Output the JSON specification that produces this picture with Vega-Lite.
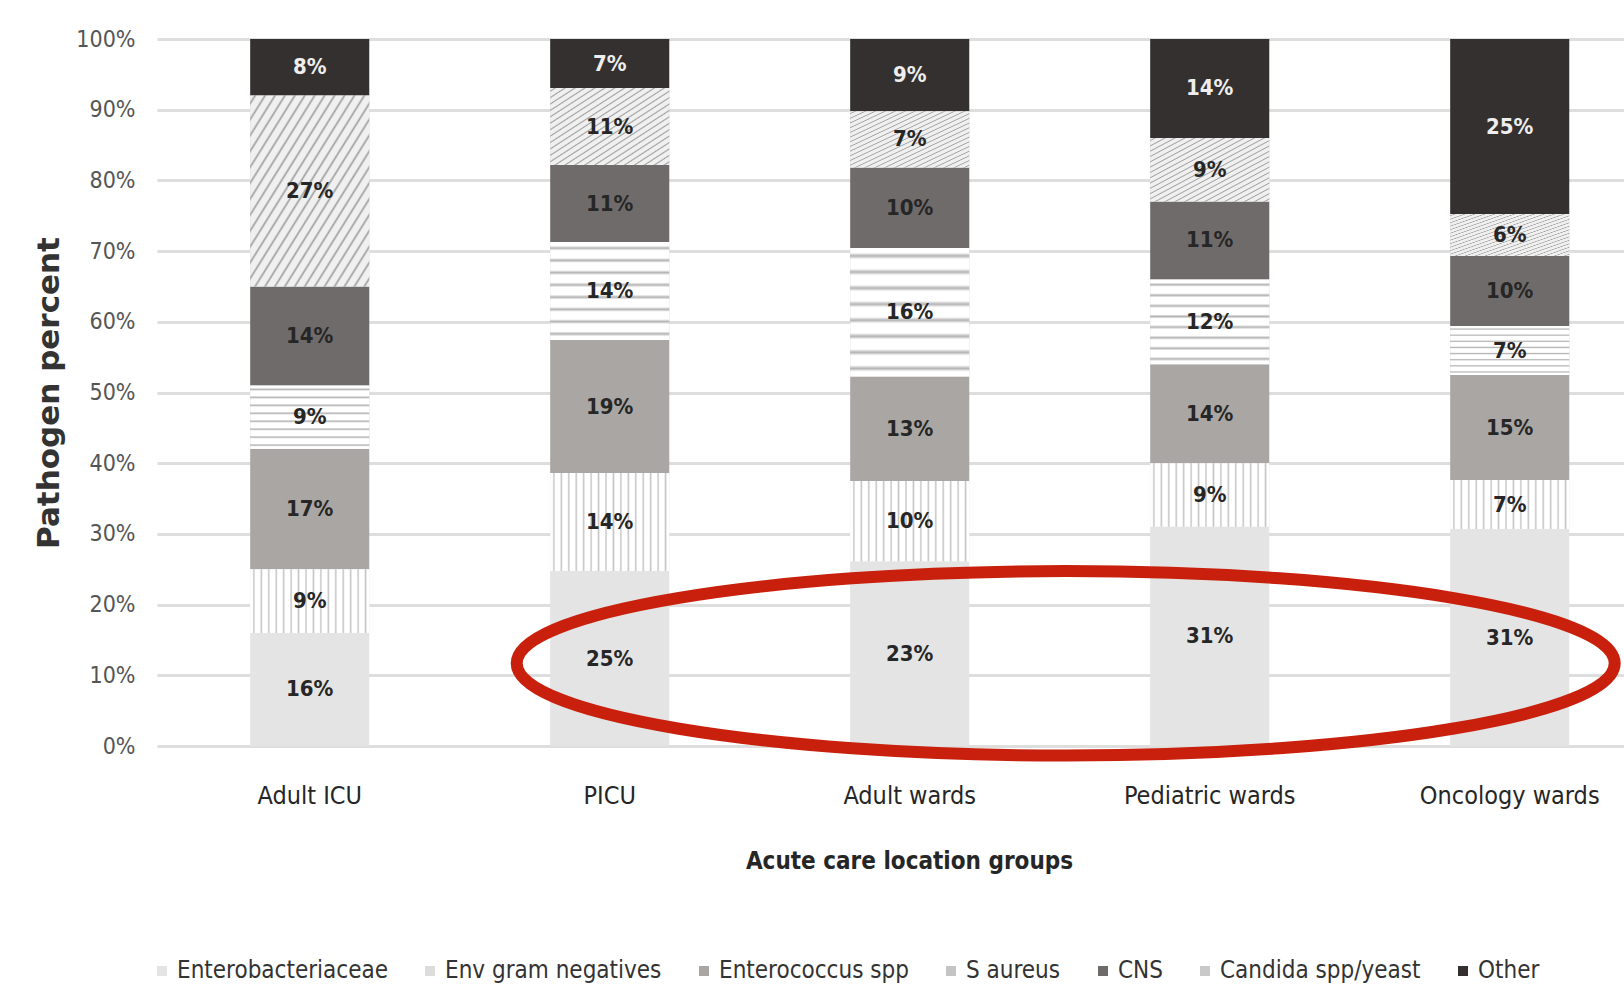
{
  "$schema": "https://vega.github.io/schema/vega-lite/v6.json",
  "width": 1467,
  "height": 707,
  "autosize": {"type": "none"},
  "padding": {"left": 157, "top": 39, "right": 0, "bottom": 243},
  "background": "#ffffff",
  "config": {
    "view": {"stroke": null},
    "font": "DejaVu Sans Condensed, Liberation Sans, sans-serif"
  },
  "datasets": {
    "main": [
      {"location": "Adult ICU", "pathogen": "Enterobacteriaceae", "order": 1, "value": 0.16},
      {"location": "Adult ICU", "pathogen": "Env gram negatives", "order": 2, "value": 0.09},
      {"location": "Adult ICU", "pathogen": "Enterococcus spp", "order": 3, "value": 0.17},
      {"location": "Adult ICU", "pathogen": "S aureus", "order": 4, "value": 0.09},
      {"location": "Adult ICU", "pathogen": "CNS", "order": 5, "value": 0.14},
      {"location": "Adult ICU", "pathogen": "Candida spp/yeast", "order": 6, "value": 0.27},
      {"location": "Adult ICU", "pathogen": "Other", "order": 7, "value": 0.08},
      {"location": "PICU", "pathogen": "Enterobacteriaceae", "order": 1, "value": 0.25},
      {"location": "PICU", "pathogen": "Env gram negatives", "order": 2, "value": 0.14},
      {"location": "PICU", "pathogen": "Enterococcus spp", "order": 3, "value": 0.19},
      {"location": "PICU", "pathogen": "S aureus", "order": 4, "value": 0.14},
      {"location": "PICU", "pathogen": "CNS", "order": 5, "value": 0.11},
      {"location": "PICU", "pathogen": "Candida spp/yeast", "order": 6, "value": 0.11},
      {"location": "PICU", "pathogen": "Other", "order": 7, "value": 0.07},
      {"location": "Adult wards", "pathogen": "Enterobacteriaceae", "order": 1, "value": 0.23},
      {"location": "Adult wards", "pathogen": "Env gram negatives", "order": 2, "value": 0.10},
      {"location": "Adult wards", "pathogen": "Enterococcus spp", "order": 3, "value": 0.13},
      {"location": "Adult wards", "pathogen": "S aureus", "order": 4, "value": 0.16},
      {"location": "Adult wards", "pathogen": "CNS", "order": 5, "value": 0.10},
      {"location": "Adult wards", "pathogen": "Candida spp/yeast", "order": 6, "value": 0.07},
      {"location": "Adult wards", "pathogen": "Other", "order": 7, "value": 0.09},
      {"location": "Pediatric wards", "pathogen": "Enterobacteriaceae", "order": 1, "value": 0.31},
      {"location": "Pediatric wards", "pathogen": "Env gram negatives", "order": 2, "value": 0.09},
      {"location": "Pediatric wards", "pathogen": "Enterococcus spp", "order": 3, "value": 0.14},
      {"location": "Pediatric wards", "pathogen": "S aureus", "order": 4, "value": 0.12},
      {"location": "Pediatric wards", "pathogen": "CNS", "order": 5, "value": 0.11},
      {"location": "Pediatric wards", "pathogen": "Candida spp/yeast", "order": 6, "value": 0.09},
      {"location": "Pediatric wards", "pathogen": "Other", "order": 7, "value": 0.14},
      {"location": "Oncology wards", "pathogen": "Enterobacteriaceae", "order": 1, "value": 0.31},
      {"location": "Oncology wards", "pathogen": "Env gram negatives", "order": 2, "value": 0.07},
      {"location": "Oncology wards", "pathogen": "Enterococcus spp", "order": 3, "value": 0.15},
      {"location": "Oncology wards", "pathogen": "S aureus", "order": 4, "value": 0.07},
      {"location": "Oncology wards", "pathogen": "CNS", "order": 5, "value": 0.10},
      {"location": "Oncology wards", "pathogen": "Candida spp/yeast", "order": 6, "value": 0.06},
      {"location": "Oncology wards", "pathogen": "Other", "order": 7, "value": 0.25}
    ],
    "ann": [{"x": 2.52, "y": 0.117}]
  },
  "resolve": {"scale": {"x": "independent", "y": "independent"}},
  "layer": [
    {
      "data": {"name": "main"},
      "encoding": {
        "x": {
          "field": "location",
          "type": "nominal",
          "sort": ["Adult ICU", "PICU", "Adult wards", "Pediatric wards", "Oncology wards"],
          "title": "Acute care location groups",
          "scale": {"paddingInner": 0.603, "paddingOuter": 0.2465, "align": 0.63},
          "axis": {
            "labelAngle": 0,
            "domain": false,
            "ticks": false,
            "grid": false,
            "labelLimit": 0,
            "labelFont": "DejaVu Sans Condensed, Liberation Sans, sans-serif",
            "labelFontSize": 25,
            "labelColor": "#262626",
            "labelPadding": 37,
            "titleFont": "DejaVu Sans Condensed, Liberation Sans, sans-serif",
            "titleFontSize": 24,
            "titleFontWeight": "bold",
            "titleColor": "#262626",
            "titlePadding": 41,
            "titleX": 752
          }
        }
      },
      "layer": [
        {
          "mark": {"type": "bar", "strokeWidth": 0},
          "encoding": {
            "y": {
              "field": "value",
              "type": "quantitative",
              "stack": "normalize",
              "title": "Pathogen percent",
              "scale": {"domain": [0, 1], "nice": false},
              "axis": {
                "values": [0, 0.1, 0.2, 0.3, 0.4, 0.5, 0.6, 0.7, 0.8, 0.9, 1],
                "format": ".0%",
                "domain": false,
                "ticks": false,
                "grid": true,
                "gridColor": "#dedede",
                "gridWidth": 3,
                "labelFont": "DejaVu Sans Condensed, Liberation Sans, sans-serif",
                "labelFontSize": 23,
                "labelColor": "#555555",
                "labelPadding": 22,
                "titleFont": "DejaVu Sans",
                "titleFontSize": 31,
                "titleFontWeight": "bold",
                "titleColor": "#333333",
                "titlePadding": 10
              }
            },
            "order": {"field": "order", "type": "quantitative"},
            "color": {
              "field": "pathogen",
              "type": "nominal",
              "scale": {
                "domain": ["Enterobacteriaceae", "Env gram negatives", "Enterococcus spp", "S aureus", "CNS", "Candida spp/yeast", "Other"],
                "range": ["#e4e4e4", "#dcdcdc", "#a9a6a4", "#c4c4c4", "#6f6b6a", "#c9c9c9", "#343030"]
              },
              "legend": {
                "orient": "none",
                "legendX": -7,
                "legendY": 920,
                "direction": "horizontal",
                "columns": 7,
                "title": null,
                "padding": 0,
                "symbolType": "square",
                "symbolSize": 100,
                "symbolStrokeWidth": 0,
                "labelFont": "DejaVu Sans Condensed, Liberation Sans, sans-serif",
                "labelFontSize": 24,
                "labelColor": "#333333",
                "labelOffset": 3,
                "columnPadding": 30,
                "labelLimit": 0
              }
            }
          }
        },
        {
          "transform": [
            {"stack": "value", "groupby": ["location"], "sort": [{"field": "order", "order": "ascending"}], "as": ["y0", "y1"], "offset": "normalize"},
            {"filter": "datum.pathogen === 'Env gram negatives'"}
          ],
          "mark": {
            "type": "bar",
            "strokeWidth": 0,
            "fill": {
              "gradient": "linear", "x1": 0, "y1": 0, "x2": 1, "y2": 0,
              "stops": [
                {"offset": 0, "color": "#ffffff"},
                {"offset": 0.01875, "color": "#ffffff"}, {"offset": 0.03125, "color": "#c4c4c4"}, {"offset": 0.04375, "color": "#ffffff"},
                {"offset": 0.08125, "color": "#ffffff"}, {"offset": 0.09375, "color": "#c4c4c4"}, {"offset": 0.10625, "color": "#ffffff"},
                {"offset": 0.14375, "color": "#ffffff"}, {"offset": 0.15625, "color": "#c4c4c4"}, {"offset": 0.16875, "color": "#ffffff"},
                {"offset": 0.20625, "color": "#ffffff"}, {"offset": 0.21875, "color": "#c4c4c4"}, {"offset": 0.23125, "color": "#ffffff"},
                {"offset": 0.26875, "color": "#ffffff"}, {"offset": 0.28125, "color": "#c4c4c4"}, {"offset": 0.29375, "color": "#ffffff"},
                {"offset": 0.33125, "color": "#ffffff"}, {"offset": 0.34375, "color": "#c4c4c4"}, {"offset": 0.35625, "color": "#ffffff"},
                {"offset": 0.39375, "color": "#ffffff"}, {"offset": 0.40625, "color": "#c4c4c4"}, {"offset": 0.41875, "color": "#ffffff"},
                {"offset": 0.45625, "color": "#ffffff"}, {"offset": 0.46875, "color": "#c4c4c4"}, {"offset": 0.48125, "color": "#ffffff"},
                {"offset": 0.51875, "color": "#ffffff"}, {"offset": 0.53125, "color": "#c4c4c4"}, {"offset": 0.54375, "color": "#ffffff"},
                {"offset": 0.58125, "color": "#ffffff"}, {"offset": 0.59375, "color": "#c4c4c4"}, {"offset": 0.60625, "color": "#ffffff"},
                {"offset": 0.64375, "color": "#ffffff"}, {"offset": 0.65625, "color": "#c4c4c4"}, {"offset": 0.66875, "color": "#ffffff"},
                {"offset": 0.70625, "color": "#ffffff"}, {"offset": 0.71875, "color": "#c4c4c4"}, {"offset": 0.73125, "color": "#ffffff"},
                {"offset": 0.76875, "color": "#ffffff"}, {"offset": 0.78125, "color": "#c4c4c4"}, {"offset": 0.79375, "color": "#ffffff"},
                {"offset": 0.83125, "color": "#ffffff"}, {"offset": 0.84375, "color": "#c4c4c4"}, {"offset": 0.85625, "color": "#ffffff"},
                {"offset": 0.89375, "color": "#ffffff"}, {"offset": 0.90625, "color": "#c4c4c4"}, {"offset": 0.91875, "color": "#ffffff"},
                {"offset": 0.95625, "color": "#ffffff"}, {"offset": 0.96875, "color": "#c4c4c4"}, {"offset": 0.98125, "color": "#ffffff"},
                {"offset": 1, "color": "#ffffff"}
              ]
            }
          },
          "encoding": {
            "y": {"field": "y0", "type": "quantitative", "title": "Pathogen percent"},
            "y2": {"field": "y1"}
          }
        },
        {
          "transform": [
            {"stack": "value", "groupby": ["location"], "sort": [{"field": "order", "order": "ascending"}], "as": ["y0", "y1"], "offset": "normalize"},
            {"filter": "datum.pathogen === 'S aureus'"}
          ],
          "mark": {
            "type": "bar",
            "strokeWidth": 0,
            "fill": {
              "gradient": "linear", "x1": 0, "y1": 0, "x2": 0, "y2": 1,
              "stops": [
                {"offset": 0, "color": "#ffffff"},
                {"offset": 0.0375, "color": "#ffffff"}, {"offset": 0.0625, "color": "#b3b3b3"}, {"offset": 0.0875, "color": "#ffffff"},
                {"offset": 0.1625, "color": "#ffffff"}, {"offset": 0.1875, "color": "#b3b3b3"}, {"offset": 0.2125, "color": "#ffffff"},
                {"offset": 0.2875, "color": "#ffffff"}, {"offset": 0.3125, "color": "#b3b3b3"}, {"offset": 0.3375, "color": "#ffffff"},
                {"offset": 0.4125, "color": "#ffffff"}, {"offset": 0.4375, "color": "#b3b3b3"}, {"offset": 0.4625, "color": "#ffffff"},
                {"offset": 0.5375, "color": "#ffffff"}, {"offset": 0.5625, "color": "#b3b3b3"}, {"offset": 0.5875, "color": "#ffffff"},
                {"offset": 0.6625, "color": "#ffffff"}, {"offset": 0.6875, "color": "#b3b3b3"}, {"offset": 0.7125, "color": "#ffffff"},
                {"offset": 0.7875, "color": "#ffffff"}, {"offset": 0.8125, "color": "#b3b3b3"}, {"offset": 0.8375, "color": "#ffffff"},
                {"offset": 0.9125, "color": "#ffffff"}, {"offset": 0.9375, "color": "#b3b3b3"}, {"offset": 0.9625, "color": "#ffffff"},
                {"offset": 1, "color": "#ffffff"}
              ]
            }
          },
          "encoding": {
            "y": {"field": "y0", "type": "quantitative", "title": "Pathogen percent"},
            "y2": {"field": "y1"}
          }
        },
        {
          "transform": [
            {"stack": "value", "groupby": ["location"], "sort": [{"field": "order", "order": "ascending"}], "as": ["y0", "y1"], "offset": "normalize"},
            {"filter": "datum.pathogen === 'Candida spp/yeast'"}
          ],
          "mark": {
            "type": "bar",
            "strokeWidth": 0,
            "fill": {
              "gradient": "linear", "x1": 0, "y1": 0, "x2": 1, "y2": 1,
              "stops": [
                {"offset": 0, "color": "#f0f0f0"},
                {"offset": 0.0125, "color": "#f0f0f0"}, {"offset": 0.0208, "color": "#a0a0a0"}, {"offset": 0.0292, "color": "#f0f0f0"},
                {"offset": 0.0542, "color": "#f0f0f0"}, {"offset": 0.0625, "color": "#a0a0a0"}, {"offset": 0.0708, "color": "#f0f0f0"},
                {"offset": 0.0958, "color": "#f0f0f0"}, {"offset": 0.1042, "color": "#a0a0a0"}, {"offset": 0.1125, "color": "#f0f0f0"},
                {"offset": 0.1375, "color": "#f0f0f0"}, {"offset": 0.1458, "color": "#a0a0a0"}, {"offset": 0.1542, "color": "#f0f0f0"},
                {"offset": 0.1792, "color": "#f0f0f0"}, {"offset": 0.1875, "color": "#a0a0a0"}, {"offset": 0.1958, "color": "#f0f0f0"},
                {"offset": 0.2208, "color": "#f0f0f0"}, {"offset": 0.2292, "color": "#a0a0a0"}, {"offset": 0.2375, "color": "#f0f0f0"},
                {"offset": 0.2625, "color": "#f0f0f0"}, {"offset": 0.2708, "color": "#a0a0a0"}, {"offset": 0.2792, "color": "#f0f0f0"},
                {"offset": 0.3042, "color": "#f0f0f0"}, {"offset": 0.3125, "color": "#a0a0a0"}, {"offset": 0.3208, "color": "#f0f0f0"},
                {"offset": 0.3458, "color": "#f0f0f0"}, {"offset": 0.3542, "color": "#a0a0a0"}, {"offset": 0.3625, "color": "#f0f0f0"},
                {"offset": 0.3875, "color": "#f0f0f0"}, {"offset": 0.3958, "color": "#a0a0a0"}, {"offset": 0.4042, "color": "#f0f0f0"},
                {"offset": 0.4292, "color": "#f0f0f0"}, {"offset": 0.4375, "color": "#a0a0a0"}, {"offset": 0.4458, "color": "#f0f0f0"},
                {"offset": 0.4708, "color": "#f0f0f0"}, {"offset": 0.4792, "color": "#a0a0a0"}, {"offset": 0.4875, "color": "#f0f0f0"},
                {"offset": 0.5125, "color": "#f0f0f0"}, {"offset": 0.5208, "color": "#a0a0a0"}, {"offset": 0.5292, "color": "#f0f0f0"},
                {"offset": 0.5542, "color": "#f0f0f0"}, {"offset": 0.5625, "color": "#a0a0a0"}, {"offset": 0.5708, "color": "#f0f0f0"},
                {"offset": 0.5958, "color": "#f0f0f0"}, {"offset": 0.6042, "color": "#a0a0a0"}, {"offset": 0.6125, "color": "#f0f0f0"},
                {"offset": 0.6375, "color": "#f0f0f0"}, {"offset": 0.6458, "color": "#a0a0a0"}, {"offset": 0.6542, "color": "#f0f0f0"},
                {"offset": 0.6792, "color": "#f0f0f0"}, {"offset": 0.6875, "color": "#a0a0a0"}, {"offset": 0.6958, "color": "#f0f0f0"},
                {"offset": 0.7208, "color": "#f0f0f0"}, {"offset": 0.7292, "color": "#a0a0a0"}, {"offset": 0.7375, "color": "#f0f0f0"},
                {"offset": 0.7625, "color": "#f0f0f0"}, {"offset": 0.7708, "color": "#a0a0a0"}, {"offset": 0.7792, "color": "#f0f0f0"},
                {"offset": 0.8042, "color": "#f0f0f0"}, {"offset": 0.8125, "color": "#a0a0a0"}, {"offset": 0.8208, "color": "#f0f0f0"},
                {"offset": 0.8458, "color": "#f0f0f0"}, {"offset": 0.8542, "color": "#a0a0a0"}, {"offset": 0.8625, "color": "#f0f0f0"},
                {"offset": 0.8875, "color": "#f0f0f0"}, {"offset": 0.8958, "color": "#a0a0a0"}, {"offset": 0.9042, "color": "#f0f0f0"},
                {"offset": 0.9292, "color": "#f0f0f0"}, {"offset": 0.9375, "color": "#a0a0a0"}, {"offset": 0.9458, "color": "#f0f0f0"},
                {"offset": 0.9708, "color": "#f0f0f0"}, {"offset": 0.9792, "color": "#a0a0a0"}, {"offset": 0.9875, "color": "#f0f0f0"},
                {"offset": 1, "color": "#f0f0f0"}
              ]
            }
          },
          "encoding": {
            "y": {"field": "y0", "type": "quantitative", "title": "Pathogen percent"},
            "y2": {"field": "y1"}
          }
        },
        {
          "mark": {"type": "text", "font": "DejaVu Sans Condensed, Liberation Sans, sans-serif", "fontSize": 22, "fontWeight": "bold", "baseline": "middle", "align": "center"},
          "encoding": {
            "y": {"field": "value", "type": "quantitative", "stack": "normalize", "bandPosition": 0.5, "title": "Pathogen percent"},
            "order": {"field": "order", "type": "quantitative"},
            "text": {"field": "value", "type": "quantitative", "format": ".0%"},
            "color": {
              "condition": {"test": "datum.pathogen === 'Other'", "value": "#eeeeee"},
              "value": "#262626"
            }
          }
        }
      ]
    },
    {
      "data": {"name": "ann"},
      "mark": {
        "type": "point",
        "shape": "M -1 0 A 1 0.168 0 1 1 1 0 A 1 0.168 0 1 1 -1 0 Z",
        "size": 1205604,
        "filled": false,
        "color": "#c8200c",
        "stroke": "#c8200c",
        "strokeWidth": 12,
        "opacity": 1
      },
      "encoding": {
        "x": {"field": "x", "type": "quantitative", "scale": {"domain": [-0.509, 4.381], "nice": false, "zero": false}, "axis": null},
        "y": {"field": "y", "type": "quantitative", "scale": {"domain": [0, 1], "nice": false, "zero": false}, "axis": null}
      }
    }
  ]
}
